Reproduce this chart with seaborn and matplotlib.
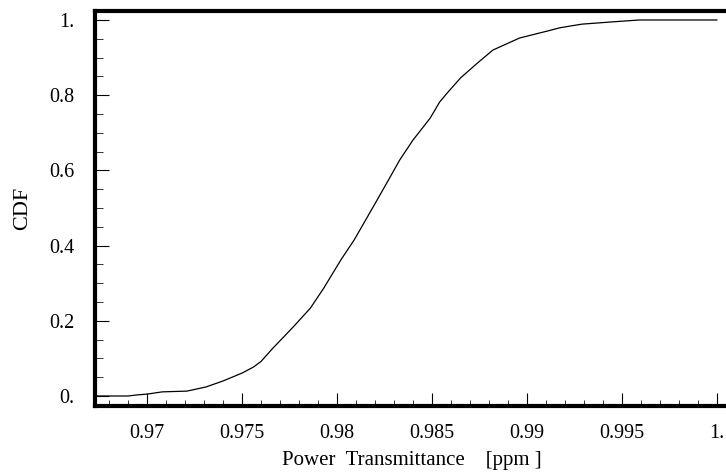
import matplotlib
matplotlib.use("Agg")
import matplotlib.pyplot as plt
import seaborn as sns
import pandas as pd
from matplotlib.ticker import MultipleLocator, FixedLocator

sns.set_theme(style="white")
plt.rcParams['font.family'] = ['Liberation Serif', 'DejaVu Serif']

transmittance = [0.96726, 0.9690, 0.9695, 0.9700, 0.9708, 0.9721, 0.9731, 0.9740,
                 0.9750, 0.9756, 0.9760, 0.9766, 0.9777, 0.9786, 0.9793, 0.9802,
                 0.9807, 0.9809, 0.9819, 0.9827, 0.9833, 0.9840, 0.9849, 0.9854,
                 0.9858, 0.9865, 0.9874, 0.9882, 0.9896, 0.9911, 0.9917, 0.9924,
                 0.9929, 0.9945, 0.9959, 1.0000]
cdf = [0.000, 0.000, 0.003, 0.005, 0.011, 0.013, 0.024, 0.040,
       0.061, 0.077, 0.092, 0.126, 0.184, 0.234, 0.287, 0.362,
       0.400, 0.415, 0.503, 0.574, 0.628, 0.681, 0.739, 0.782,
       0.806, 0.846, 0.886, 0.920, 0.952, 0.971, 0.979, 0.985,
       0.989, 0.995, 1.000, 1.000]

x_ticks = [0.97, 0.975, 0.98, 0.985, 0.99, 0.995, 1.0]
x_tick_labels = ["0.97", "0.975", "0.98", "0.985", "0.99", "0.995", "1."]
y_ticks = [0.0, 0.2, 0.4, 0.6, 0.8, 1.0]
y_tick_labels = ["0.", "0.2", "0.4", "0.6", "0.8", "1."]

df = pd.DataFrame({"x": transmittance, "y": cdf})

fig = plt.figure(figsize=(7.26, 4.75), dpi=100)
ax = fig.add_axes([95/726, 69/475, 633.5/726, 395/475])

sns.lineplot(data=df, x="x", y="y", ax=ax, color="black", linewidth=0.9,
             estimator=None, sort=False)

ax.set_xlim(0.96726, 1.0006)
ax.set_ylim(-0.0266, 1.0239)

ax.xaxis.set_major_locator(FixedLocator(x_ticks))
ax.set_xticklabels(x_tick_labels)
ax.yaxis.set_major_locator(FixedLocator(y_ticks))
ax.set_yticklabels(y_tick_labels)
ax.xaxis.set_minor_locator(MultipleLocator(0.001))
ax.yaxis.set_minor_locator(MultipleLocator(0.05))

ax.tick_params(which="both", bottom=True, left=True, top=False, right=False)
ax.tick_params(which="major", direction="in", length=9.5, width=0.8, color="black",
               labelsize=14.5, labelcolor="black")
ax.tick_params(which="minor", direction="in", length=4.5, width=0.7, color="#333333")
ax.tick_params(axis="x", which="major", pad=13)
ax.tick_params(axis="y", which="major", pad=15, length=10)
ax.tick_params(axis="y", which="minor", length=5.5)

for side in ["left", "bottom", "top", "right"]:
    ax.spines[side].set_visible(True)
    ax.spines[side].set_color("black")
    ax.spines[side].set_linewidth(3.0)

ax.set_xlabel("Power  Transmittance    [ppm ]", fontsize=15, color="black")
ax.set_ylabel("CDF", fontsize=16, color="black")
ax.xaxis.set_label_coords(0.5, -0.137)
ax.xaxis.label.set_verticalalignment("center")
ax.yaxis.set_label_coords(-0.115, 0.5)
ax.yaxis.label.set_verticalalignment("center")
ax.grid(False)

fig.savefig("out.png", dpi=100)
